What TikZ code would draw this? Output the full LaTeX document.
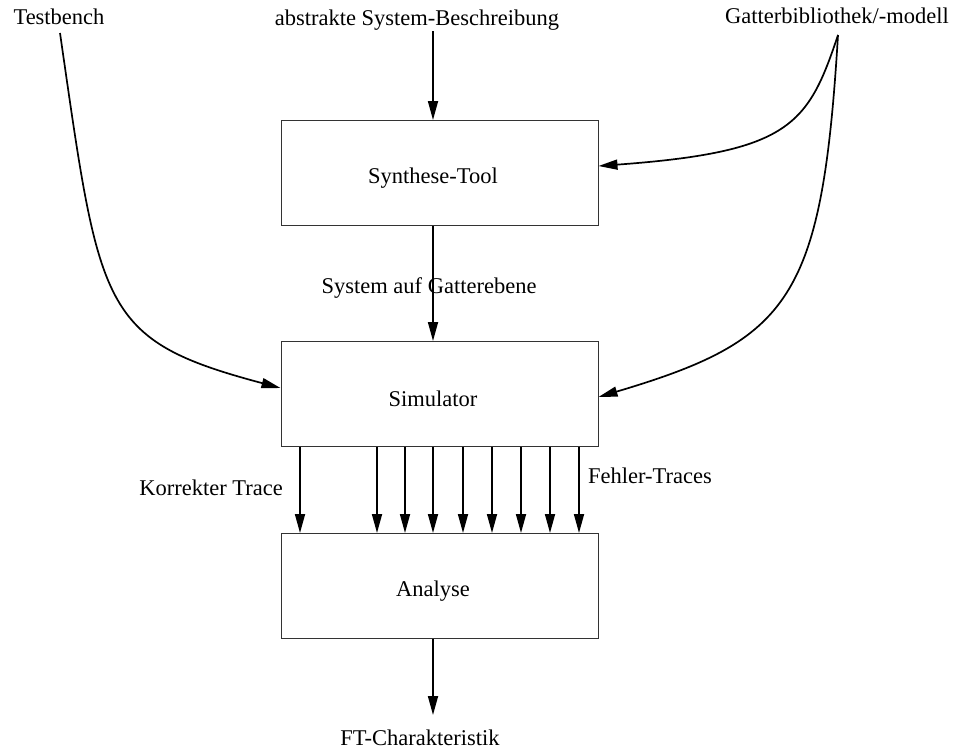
\documentclass[tikz,border=0pt]{standalone}
\usepackage{fontspec}
\setmainfont{Liberation Serif}
\usetikzlibrary{arrows.meta}
\begin{document}
\begin{tikzpicture}[x=1pt,y=-1pt,
  every node/.style={font=\fontsize{22.5}{27}\selectfont, inner sep=0pt},
  block/.style={draw=black!80, line width=1pt, minimum width=317pt, minimum height=105pt},
  arr/.style={line width=1.7pt, -{Triangle[length=19pt,width=10pt]}},
  lbl/.style={anchor=base}]
  \useasboundingbox (0,0) rectangle (957,750);

  % processing blocks
  \node[block] (synth) at (439.5,173) {};
  \node[block] (sim)   at (439.5,394) {};
  \node[block] (ana)   at (439.5,586) {};
  \node (synthT) at (433,178) {Synthese-Tool};
  \node (simT)   at (433,399) {Simulator};
  \node (anaT)   at (433,591) {Analyse};

  % inputs and outputs
  \node[lbl] (tb)   at (59,24)  {Testbench};
  \node[lbl] (abs)  at (417,25) {abstrakte System-Beschreibung};
  \node[lbl] (gat)  at (837,23) {Gatterbibliothek/-modell};
  \node[lbl] (gate) at (429,293) {System auf Gatterebene};
  \node[anchor=base east] (kor) at (283,495) {Korrekter Trace};
  \node[anchor=base west] (fehl) at (588,483) {Fehler-Traces};
  \node[lbl] (ft)   at (420,745) {FT-Charakteristik};

  \coordinate (tbout)  at (60,33);
  \coordinate (absout) at (433,31);
  \coordinate (gatout) at (838,35);
  \coordinate (ftin)   at (433,715);

  % main flow
  \draw[arr] (absout) -- (absout |- synth.north);
  \draw[arr] (synth.south -| absout) -- (sim.north -| absout);
  \draw[arr] (ana.south -| ftin) -- (ftin);

  % side inputs
  \draw[arr] (tbout) .. controls (100,310) and (100,340) .. ([yshift=6pt]sim.west);
  \draw[arr] (gatout) .. controls (808,125) and (790,152) .. ([yshift=7pt]synth.east);
  \draw[arr] (gatout) .. controls (822,300) and (790,340) .. ([yshift=-3pt]sim.east);

  % traces
  \foreach \x in {300,377,405,433,463,492,521,550,579}
    \draw[arr] (sim.south -| \x,0) -- (ana.north -| \x,0);
\end{tikzpicture}
\end{document}
